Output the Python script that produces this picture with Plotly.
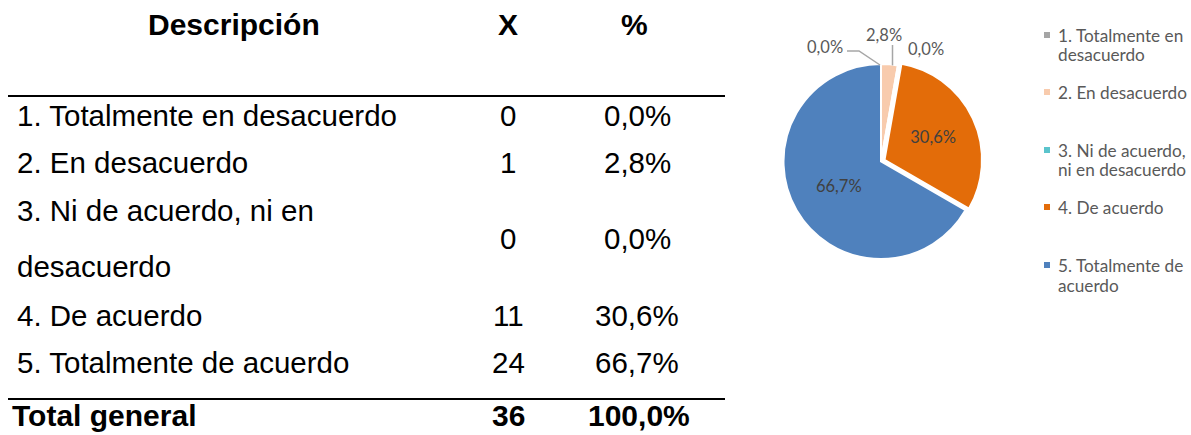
import math
import plotly.graph_objects as go

W, H = 1191, 435
OFF = 0
FW, FH = W, H

# ---------------- data ----------------
categorias = [
    "1. Totalmente en desacuerdo",
    "2. En desacuerdo",
    "3. Ni de acuerdo, ni en desacuerdo",
    "4. De acuerdo",
    "5. Totalmente de acuerdo",
]
desc_lineas = [
    ["1. Totalmente en desacuerdo"],
    ["2. En desacuerdo"],
    ["3. Ni de acuerdo, ni en", "desacuerdo"],
    ["4. De acuerdo"],
    ["5. Totalmente de acuerdo"],
]
legend_lineas = [
    ["1. Totalmente en", "desacuerdo"],
    ["2. En desacuerdo"],
    ["3. Ni de acuerdo,", "ni en desacuerdo"],
    ["4. De acuerdo"],
    ["5. Totalmente de", "acuerdo"],
]
frecuencias = [0, 1, 0, 11, 24]
porcentajes = ["0,0%", "2,8%", "0,0%", "30,6%", "66,7%"]
total_x = "36"
total_pct = "100,0%"
encabezados = ["Descripción", "X", "%"]
total_label = "Total general"
colores = ["#A5A5A5", "#F8CBAD", "#5BC4CC", "#E36C09", "#4F81BD"]
pull = [0, 0, 0, 0.04, 0]


def px(x):
    return (x - OFF) / FW


def py(y):
    return 1 - (y - OFF) / FH


fig = go.Figure()

# ---------------- pie ----------------
cx, cy, r = 881, 161.5, 97.5
half = r * (1 + max(pull))
total = sum(frecuencias)
pie_text = [p if f / total > 0.1 else "" for f, p in zip(frecuencias, porcentajes)]

fig.add_trace(go.Pie(
    labels=categorias,
    values=frecuencias,
    text=pie_text,
    textinfo="text",
    textposition="inside",
    insidetextorientation="horizontal",
    insidetextfont=dict(family="Lato", size=16.5, color="#404040"),
    sort=False,
    direction="clockwise",
    rotation=0,
    pull=pull,
    marker=dict(colors=colores, line=dict(color="white", width=2)),
    domain=dict(x=[px(cx - half), px(cx + half)], y=[py(cy + half), py(cy - half)]),
    hoverinfo="skip",
    showlegend=False,
))

annotations = []
shapes = []

# small-slice labels with leader lines
cum = 0
small_pos = [(825, 47), (884, 35), (926, 49)]
k = 0
for i, (f, p) in enumerate(zip(frecuencias, porcentajes)):
    mid = (cum + f / 2) / total * 2 * math.pi
    cum += f
    if f / total > 0.1:
        continue
    tx, ty = small_pos[k]
    k += 1
    ex = cx + r * math.sin(mid)
    ey = cy - r * math.cos(mid)
    annotations.append(dict(x=px(tx), y=py(ty), xref="paper", yref="paper", text=p,
                            showarrow=False, xanchor="center", yanchor="middle",
                            font=dict(family="Lato", size=16.5, color="#595959")))
    if i == 0:
        path = f"M {px(tx+22)},{py(ty+4)} L {px(tx+34)},{py(ty+4)} L {px(ex-1)},{py(ey+1)}"
        shapes.append(dict(type="path", xref="paper", yref="paper", path=path,
                           line=dict(color="#A6A6A6", width=1.5)))
    elif i == 1:
        shapes.append(dict(type="line", xref="paper", yref="paper",
                           x0=px(ex + 3), x1=px(ex + 3), y0=py(ty + 10), y1=py(ey + 1),
                           line=dict(color="#A6A6A6", width=1.5)))

# ---------------- legend ----------------
leg_first_y = [35, 92, 150, 207, 265]
leg_line_gap = 20
leg_sq_x, leg_txt_x, sq = 1047, 1056, 6
for lines, y0, col in zip(legend_lineas, leg_first_y, colores):
    shapes.append(dict(type="rect", xref="paper", yref="paper",
                       x0=px(leg_sq_x - sq / 2), x1=px(leg_sq_x + sq / 2),
                       y0=py(y0 + sq / 2), y1=py(y0 - sq / 2),
                       fillcolor=col, line=dict(width=0)))
    for j, ln in enumerate(lines):
        annotations.append(dict(x=px(leg_txt_x), y=py(y0 + j * leg_line_gap),
                                xref="paper", yref="paper", text=ln, showarrow=False,
                                xanchor="left", yanchor="middle",
                                font=dict(family="Lato", size=17.2, color="#595959")))

# ---------------- table ----------------
F_REG = dict(family="Liberation Sans, Arial", size=29.5, color="black")
F_BOLD = dict(family="Liberation Sans, Arial", size=30, color="black", weight="bold")
col_desc_x, col_x_x, col_p_x = 15, 508, 637
header_y = 24
row_y = [115, 162, 239, 315, 362]
row3_lines_y = [210, 266]
total_y = 415


def txt(x, y, s, font, anchor="center"):
    annotations.append(dict(x=px(x), y=py(y), xref="paper", yref="paper", text=s,
                            showarrow=False, xanchor=anchor, yanchor="middle", font=font))


txt(234, header_y, encabezados[0], F_BOLD)
txt(col_x_x, header_y, encabezados[1], F_BOLD)
txt(col_p_x - 3, header_y, encabezados[2], F_BOLD)

for i, lines in enumerate(desc_lineas):
    if len(lines) == 1:
        txt(col_desc_x, row_y[i], lines[0], F_REG, "left")
    else:
        for ln, yy in zip(lines, row3_lines_y):
            txt(col_desc_x, yy, ln, F_REG, "left")
    txt(col_x_x, row_y[i], str(frecuencias[i]), F_REG)
    txt(col_p_x, row_y[i], porcentajes[i], F_REG)

txt(10, total_y, total_label, F_BOLD, "left")
txt(col_x_x, total_y, total_x, F_BOLD)
txt(col_p_x + 2, total_y, total_pct, F_BOLD)

for yy in (96, 399):
    shapes.append(dict(type="line", xref="paper", yref="paper",
                       x0=px(8), x1=px(725), y0=py(yy), y1=py(yy),
                       line=dict(color="black", width=2)))

fig.update_layout(
    width=FW, height=FH,
    margin=dict(l=0, r=0, t=0, b=0),
    paper_bgcolor="white",
    plot_bgcolor="white",
    annotations=annotations,
    shapes=shapes,
    showlegend=False,
)

fig.write_html(
    "out.html",
    config={"displayModeBar": False},
    post_script="document.body.style.margin='0';document.body.style.overflow='hidden';",
)
